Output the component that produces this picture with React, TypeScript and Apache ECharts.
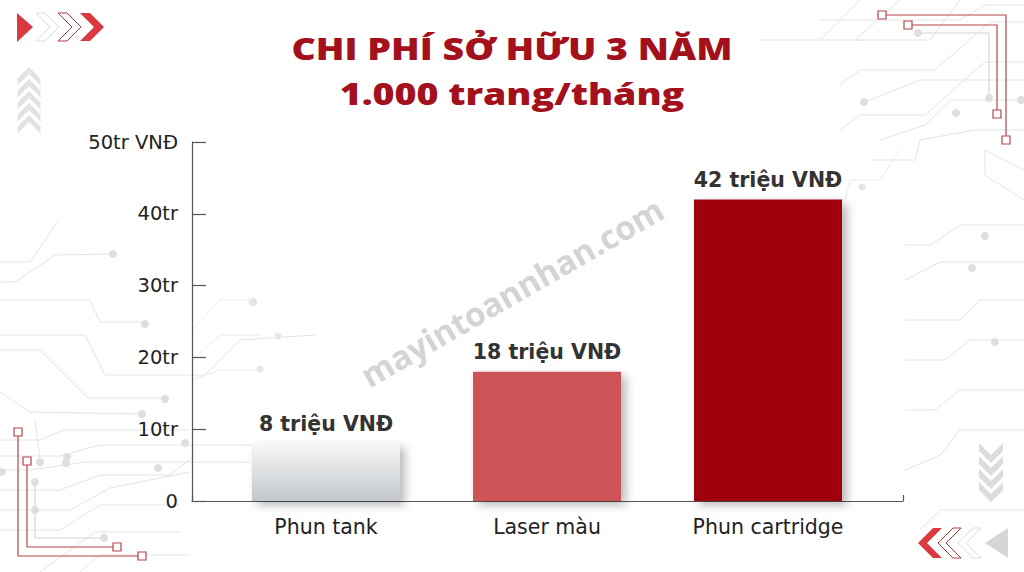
import React, { useEffect, useRef } from "react";
import * as echarts from "echarts";

const categories = ["Phun tank", "Laser màu", "Phun cartridge"];
const values = [8, 18, 42];
const valueLabels = ["8 triệu VNĐ", "18 triệu VNĐ", "42 triệu VNĐ"];
const yTickLabels: Record<number, string> = { 0: "0", 10: "10tr", 20: "20tr", 30: "30tr", 40: "40tr", 50: "50tr VNĐ" };
const titleLines = ["CHI PHÍ SỞ HỮU 3 NĂM", "1.000 trang/tháng"];
const watermark = "mayintoannhan.com";

const FONT = "'Open Sans', 'Noto Sans', sans-serif";
const WIDE = "'DejaVu Sans', 'Open Sans', sans-serif";
const LINE = "#e4e4e4";
const DOT = "#dedede";
const RED_LINE = "#b5474c";

const barColors: any[] = [
  new echarts.graphic.LinearGradient(0, 0, 0, 1, [
    { offset: 0, color: "#f6f7f8" },
    { offset: 1, color: "#c3c7ca" },
  ]),
  "#cd5257",
  "#a0050e",
];

function chevRight(x: number, cy: number, h: number, t: number) {
  const hh = h / 2;
  return [[x, cy - hh], [x + t, cy - hh], [x + t + hh, cy], [x + t, cy + hh], [x, cy + hh], [x + hh, cy]];
}
function chevLeft(x: number, cy: number, h: number, t: number) {
  const hh = h / 2;
  const w = t + hh;
  return [[x + w, cy - hh], [x + w - t, cy - hh], [x, cy], [x + w - t, cy + hh], [x + w, cy + hh], [x + w - hh, cy]];
}
function chevUp(cx: number, top: number, w: number, t: number) {
  const hw = w / 2;
  return [[cx, top], [cx + hw, top + hw], [cx + hw, top + hw + t], [cx, top + t], [cx - hw, top + hw + t], [cx - hw, top + hw]];
}
function chevDown(cx: number, top: number, w: number, t: number) {
  const hw = w / 2;
  return [[cx - hw, top], [cx, top + hw], [cx + hw, top], [cx + hw, top + t], [cx, top + hw + t], [cx - hw, top + t]];
}

const poly = (points: number[][], style: any) => ({ type: "polygon", shape: { points }, style, silent: true });
const pl = (points: number[][], color = LINE, w = 1) => ({
  type: "polyline",
  shape: { points },
  style: { stroke: color, lineWidth: w, fill: null },
  silent: true,
});
const dot = (x: number, y: number, r = 4, color = DOT) => ({ type: "circle", shape: { cx: x, cy: y, r }, style: { fill: color }, silent: true });
const sq = (x: number, y: number) => ({
  type: "rect",
  shape: { x: x - 4, y: y - 4, width: 8, height: 8 },
  style: { fill: "#fff", stroke: RED_LINE, lineWidth: 1.2 },
  silent: true,
});

function decorations() {
  const g: any[] = [];
  // light circuit lines – left
  g.push(pl([[0, 262], [30, 262], [57, 222]]), dot(113, 254, 4));
  g.push(pl([[0, 282], [15, 282], [55, 255], [113, 254]]));
  g.push(pl([[0, 300], [90, 300], [100, 322], [145, 322]]), dot(145, 324, 4));
  g.push(pl([[0, 335], [85, 335], [105, 375], [205, 375], [240, 340], [315, 335]]), dot(253, 302, 4));
  g.push(pl([[0, 350], [40, 350], [88, 398], [165, 398]]), dot(165, 399, 4));
  g.push(pl([[0, 392], [30, 412], [142, 414]]), dot(142, 414, 4));
  g.push(pl([[0, 440], [40, 440], [63, 430], [188, 430]]), dot(185, 443, 4));
  g.push(pl([[0, 456], [60, 456], [100, 445], [340, 445]]));
  g.push(pl([[0, 470], [30, 470], [85, 462], [250, 462]]), dot(66, 463, 4));
  g.push(pl([[0, 490], [60, 490], [100, 475], [170, 475], [195, 455]]), dot(158, 468, 4));
  g.push(pl([[0, 510], [70, 510], [110, 488], [190, 472]]));
  g.push(pl([[0, 530], [60, 530], [100, 505], [180, 505]]));
  g.push(pl([[40, 572], [95, 532], [180, 532]]));
  g.push(pl([[80, 572], [100, 555], [190, 555]]));
  g.push(pl([[35, 420], [40, 460]]), dot(40, 462, 4), dot(67, 457, 4), dot(2, 472, 4));
  // faint lines inside plot
  g.push(pl([[192, 330], [220, 300], [252, 300]], "#ececec"), dot(252, 302, 3.5, "#e6e6e6"));
  g.push(pl([[192, 360], [220, 335], [260, 335]], "#ececec"), dot(278, 336, 3.5, "#e6e6e6"));
  g.push(pl([[192, 380], [220, 370], [260, 370]], "#ececec"), dot(260, 369, 3.5, "#e6e6e6"));
  // light circuit lines – right
  g.push(pl([[860, 0], [820, 40], [760, 40]]), pl([[900, 0], [855, 40], [865, 40]]));
  g.push(pl([[1024, 5], [985, 5], [960, 20], [820, 20]]));
  g.push(pl([[1024, 22], [990, 22], [935, 70], [860, 70], [840, 85]]));
  g.push(pl([[960, 0], [930, 40], [820, 40]]));
  g.push(pl([[1024, 62], [985, 62], [925, 115], [860, 115], [840, 130]]));
  g.push(pl([[1024, 80], [990, 80], [920, 80], [865, 102]]), dot(864, 102, 4));
  g.push(pl([[1024, 100], [950, 100], [925, 125], [880, 140]]), dot(956, 113, 4));
  g.push(pl([[1024, 130], [975, 130], [920, 140], [915, 160], [870, 160]]), dot(1021, 100, 4));
  g.push(pl([[1024, 170], [985, 150], [985, 175], [1024, 200]]));
  g.push(pl([[1024, 225], [960, 225], [930, 245], [905, 245]]), dot(985, 236, 4));
  g.push(pl([[1024, 262], [940, 262], [905, 280]]), dot(972, 268, 4));
  g.push(pl([[1024, 300], [980, 300], [960, 320], [905, 320]]));
  g.push(pl([[1024, 340], [970, 340], [945, 360], [905, 360]]), dot(995, 342, 4));
  g.push(pl([[1024, 390], [960, 390], [935, 410], [905, 410]]));
  g.push(pl([[900, 150], [880, 180], [850, 180], [845, 200]], "#ececec"), dot(862, 187, 3.5, "#e4e4e4"));
  g.push(pl([[1024, 430], [960, 430], [940, 455], [905, 470]]));
  g.push(pl([[920, 530], [940, 510], [1024, 510]]));

  // red circuit lines – top right
  g.push(pl([[882, 15], [1006, 15], [1006, 140]], RED_LINE, 1.2), sq(882, 15), sq(1006, 140));
  g.push(pl([[908, 25], [997, 25], [997, 114]], RED_LINE, 1.2), sq(908, 25), sq(997, 114));
  g.push(pl([[918, 33], [989, 33], [989, 98]], "#d6d6d6", 1.2), dot(918, 33, 4), dot(989, 98, 4));
  // red circuit lines – bottom left
  g.push(pl([[18, 432], [18, 556], [142, 556]], RED_LINE, 1.2), sq(18, 432), sq(142, 556));
  g.push(pl([[27, 461], [27, 547], [117, 547]], RED_LINE, 1.2), sq(27, 461), sq(117, 547));
  g.push(pl([[35, 482], [35, 538], [104, 538]], "#d6d6d6", 1.2), dot(35, 482, 4), dot(104, 538, 4), dot(35, 510, 4));

  // chevrons top-left
  g.push(poly([[17, 13], [33, 27], [17, 42]], { fill: "#d83a3f" }));
  g.push(poly(chevRight(36, 27, 28, 9), { fill: "#ffffff", stroke: "#dddddd", lineWidth: 1 }));
  g.push(poly(chevRight(58, 27, 28, 9), { fill: "#ffffff", stroke: "#b5383d", lineWidth: 1 }));
  g.push(poly(chevRight(80, 27, 28, 10), { fill: "#d83a3f" }));
  // vertical gray up chevrons
  for (let i = 0; i < 5; i++) g.push(poly(chevUp(29, 67 + i * 12, 23, 7), { fill: "#e2e2e2" }));
  // vertical gray down chevrons
  for (let i = 0; i < 4; i++) g.push(poly(chevDown(991, 443 + i * 13, 24, 8), { fill: "#dcdcdc" }));
  // chevrons bottom-right
  g.push(poly(chevLeft(918, 543, 30, 9), { fill: "#d83a3f" }));
  g.push(poly(chevLeft(938, 543, 30, 8), { fill: "#ffffff", stroke: "#b5383d", lineWidth: 1 }));
  g.push(poly(chevLeft(958, 543, 30, 8), { fill: "#ffffff", stroke: "#dddddd", lineWidth: 1 }));
  g.push(poly([[1008, 528], [985, 543], [1008, 558]], { fill: "#d6d6d6" }));

  // watermark
  g.push({
    type: "text",
    x: 512,
    y: 292,
    rotation: (30 * Math.PI) / 180,
    silent: true,
    z: 0,
    style: {
      text: watermark,
      fill: "#d4d4d4",
      font: `bold 33px ${FONT}`,
      align: "center",
      verticalAlign: "middle",
    },
  });
  // title
  titleLines.forEach((t, i) => {
    g.push({
      type: "text",
      x: 512,
      y: 49 + i * 45,
      scaleX: 1.25,
      silent: true,
      style: { text: t, fill: "#a3111c", font: `800 30px ${FONT}`, align: "center", verticalAlign: "middle" },
    });
  });
  return g;
}

export default function App() {
  const ref = useRef<HTMLDivElement>(null);
  useEffect(() => {
    if (!ref.current) return;
    const chart = echarts.init(ref.current, null, { renderer: "svg" });
    chart.setOption({
      animation: false,
      backgroundColor: "#ffffff",
      textStyle: { fontFamily: WIDE },
      graphic: decorations(),
      grid: [
        { left: 215.5, width: 663, top: 142, bottom: 71 },
        { left: 192, right: 121, top: 142, bottom: 71 },
      ],
      xAxis: [
        {
          type: "category",
          gridIndex: 0,
          data: categories,
          axisLine: { show: false },
          axisTick: { show: false },
          axisLabel: { color: "#222", fontSize: 20.5, margin: 15, fontFamily: WIDE },
        },
        {
          type: "category",
          gridIndex: 1,
          data: [""],
          axisLine: { show: true, lineStyle: { color: "#555", width: 1.2 } },
          axisTick: { show: true, inside: true, length: 6, lineStyle: { color: "#555", width: 1.2 } },
          axisLabel: { show: false },
        },
      ],
      yAxis: [
        {
          type: "value",
          gridIndex: 0,
          min: 0,
          max: 50,
          interval: 10,
          offset: 23.5,
          axisLine: { show: true, lineStyle: { color: "#555", width: 1.2 } },
          axisTick: { show: true, inside: true, length: 14, lineStyle: { color: "#555", width: 1.2 } },
          splitLine: { show: false },
          axisLabel: {
            color: "#222",
            fontSize: 19.5,
            margin: 14,
            fontFamily: WIDE,
            formatter: (v: number) => yTickLabels[v] ?? String(v),
          },
        },
        { type: "value", gridIndex: 1, min: 0, max: 50, show: false },
      ],
      series: [
        {
          type: "bar",
          xAxisIndex: 0,
          yAxisIndex: 0,
          barWidth: 148,
          data: values.map((v, i) => ({
            value: v,
            itemStyle: {
              color: barColors[i],
              shadowBlur: 10,
              shadowOffsetX: 5,
              shadowOffsetY: 4,
              shadowColor: "rgba(0,0,0,0.28)",
            },
          })),
          label: {
            show: true,
            position: "top",
            distance: 9,
            color: "#333",
            fontSize: 20.5,
            fontWeight: "bold",
            fontFamily: WIDE,
            formatter: (p: any) => valueLabels[p.dataIndex],
          },
        },
      ],
    });
    return () => chart.dispose();
  }, []);
  return <div ref={ref} style={{ width: 1024, height: 572, position: "absolute", left: 0, top: 0 }} />;
}
